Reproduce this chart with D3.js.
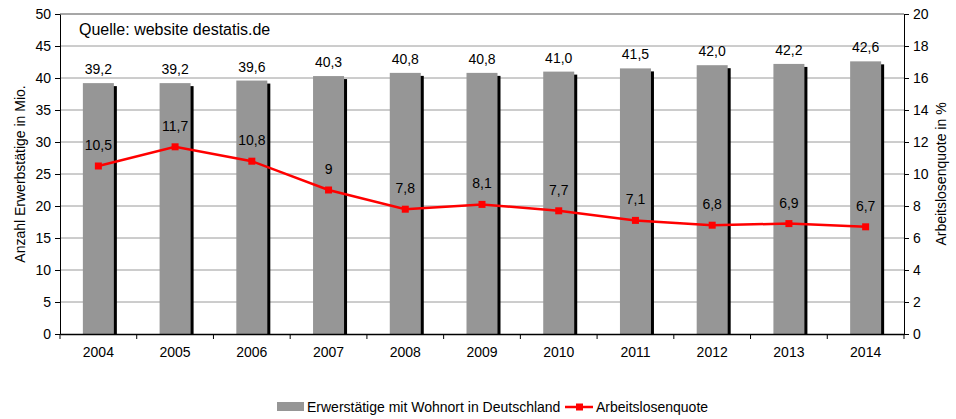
<!DOCTYPE html>
<html>
<head>
<meta charset="utf-8">
<script src="https://cdn.jsdelivr.net/npm/d3@7"></script>
<style>
  body { margin: 0; background: #fff; }
  svg text { font-family: "Liberation Sans", Arial, sans-serif; fill: #000; }
</style>
</head>
<body>
<svg id="chart" width="956" height="419"></svg>
<script>
// data
const years = ['2004', '2005', '2006', '2007', '2008', '2009', '2010', '2011', '2012', '2013', '2014'];
const erwerbstaetige = [39.2, 39.2, 39.6, 40.3, 40.8, 40.8, 41.0, 41.5, 42.0, 42.2, 42.6];
const quote = [10.5, 11.7, 10.8, 9, 7.8, 8.1, 7.7, 7.1, 6.8, 6.9, 6.7];
const leftTicks = [0, 5, 10, 15, 20, 25, 30, 35, 40, 45, 50];
const rightTicks = [0, 2, 4, 6, 8, 10, 12, 14, 16, 18, 20];

const margin = { top: 14, right: 52, bottom: 85, left: 60 };
const W = 956, H = 419;
const width = W - margin.left - margin.right;
const height = H - margin.top - margin.bottom;
const fs = '14px';

const fmt = v => (Number.isInteger(v) && v < 10 ? String(v) : v.toFixed(1)).replace('.', ',');

const svg = d3.select('#chart');
const g = svg.append('g').attr('transform', `translate(${margin.left},${margin.top})`);

const x = d3.scaleBand().domain(years).range([0, width]);
const yL = d3.scaleLinear().domain([0, 50]).range([height, 0]);
const yR = d3.scaleLinear().domain([0, 20]).range([height, 0]);

// grid lines
g.selectAll('.grid')
  .data(leftTicks.slice(1))
  .enter().append('line')
  .attr('x1', 0).attr('x2', width)
  .attr('y1', d => yL(d)).attr('y2', d => yL(d))
  .attr('stroke', '#9a9a9a').attr('stroke-width', 1);

// bars: black shadow then gray bar
const barW = 31;
const bars = g.selectAll('.bar').data(erwerbstaetige).enter().append('g');
bars.append('rect')
  .attr('x', (d, i) => x(years[i]) + x.bandwidth() / 2 - barW / 2 + 3)
  .attr('y', d => yL(d) + 3)
  .attr('width', barW)
  .attr('height', d => height - yL(d) - 3)
  .attr('fill', '#000');
bars.append('rect')
  .attr('x', (d, i) => x(years[i]) + x.bandwidth() / 2 - barW / 2)
  .attr('y', d => yL(d))
  .attr('width', barW)
  .attr('height', d => height - yL(d))
  .attr('fill', '#969696');
bars.append('text')
  .attr('x', (d, i) => x(years[i]) + x.bandwidth() / 2)
  .attr('y', d => yL(d) - 9)
  .attr('text-anchor', 'middle')
  .style('font-size', fs)
  .text(d => fmt(d));

// axes
const axL = g.append('g')
  .call(d3.axisLeft(yL).tickValues(leftTicks).tickSize(5).tickPadding(4));
const axR = g.append('g').attr('transform', `translate(${width},0)`)
  .call(d3.axisRight(yR).tickValues(rightTicks).tickSize(5).tickPadding(4));
const axB = g.append('g').attr('transform', `translate(0,${height})`)
  .call(d3.axisBottom(x).tickSize(0).tickPadding(13));
[axL, axR, axB].forEach(a => {
  a.selectAll('text').style('font-size', fs).style('font-family', '"Liberation Sans", Arial, sans-serif');
  a.select('.domain').attr('stroke', '#000');
});
axB.select('.domain').attr('stroke-width', 1.5);
// category separator ticks
g.selectAll('.ctick')
  .data(years.concat(['end']))
  .enter().append('line')
  .attr('x1', (d, i) => i * x.step()).attr('x2', (d, i) => i * x.step())
  .attr('y1', height).attr('y2', height + 5)
  .attr('stroke', '#000');
// top border
g.append('line').attr('x1', 0).attr('x2', width).attr('y1', 0).attr('y2', 0)
  .attr('stroke', '#808080');

// line series
const line = d3.line()
  .x((d, i) => x(years[i]) + x.bandwidth() / 2)
  .y(d => yR(d));
g.append('path').datum(quote)
  .attr('d', line)
  .attr('fill', 'none')
  .attr('stroke', '#ff0000')
  .attr('stroke-width', 2.5);
g.selectAll('.pt').data(quote).enter().append('rect')
  .attr('x', (d, i) => x(years[i]) + x.bandwidth() / 2 - 3.5)
  .attr('y', d => yR(d) - 3.5)
  .attr('width', 7).attr('height', 7)
  .attr('fill', '#ff0000');
g.selectAll('.ql').data(quote).enter().append('text')
  .attr('x', (d, i) => x(years[i]) + x.bandwidth() / 2)
  .attr('y', d => yR(d) - 16)
  .attr('text-anchor', 'middle')
  .style('font-size', fs)
  .text(d => fmt(d));

// source label
g.append('text').attr('x', 19).attr('y', 21)
  .style('font-size', '16px')
  .text('Quelle: website destatis.de');

// axis titles
svg.append('text')
  .attr('transform', `translate(25,${margin.top + height / 2}) rotate(-90)`)
  .attr('text-anchor', 'middle')
  .style('font-size', fs)
  .text('Anzahl Erwerbstätige in Mio.');
svg.append('text')
  .attr('transform', `translate(946,${margin.top + height / 2}) rotate(-90)`)
  .attr('text-anchor', 'middle')
  .style('font-size', fs)
  .text('Arbeitslosenquote in %');

// legend
const lg = svg.append('g').attr('transform', 'translate(277,407)');
lg.append('rect').attr('x', 0).attr('y', -5).attr('width', 27).attr('height', 9).attr('fill', '#969696');
lg.append('text').attr('x', 30).attr('y', 5).style('font-size', fs).text('Erwerstätige mit Wohnort in Deutschland');
lg.append('line').attr('x1', 288).attr('x2', 316).attr('y1', 0).attr('y2', 0)
  .attr('stroke', '#ff0000').attr('stroke-width', 2.5);
lg.append('rect').attr('x', 299).attr('y', -3.5).attr('width', 7).attr('height', 7).attr('fill', '#ff0000');
lg.append('text').attr('x', 319).attr('y', 5).style('font-size', fs).text('Arbeitslosenquote');
</script>
</body>
</html>
